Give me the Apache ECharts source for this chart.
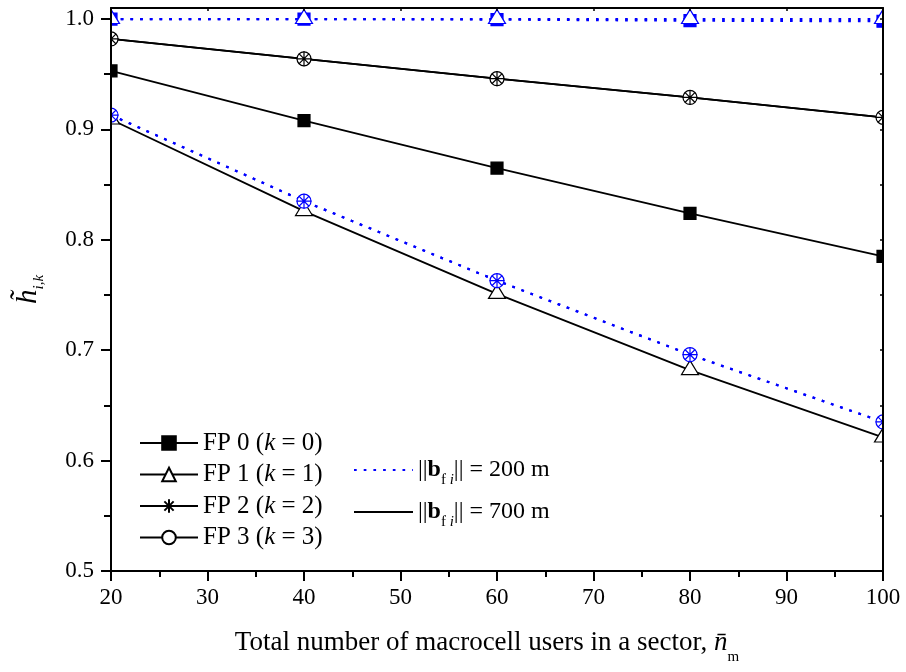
<!DOCTYPE html>
<html><head><meta charset="utf-8">
<script src="https://cdn.jsdelivr.net/npm/echarts@6/dist/echarts.min.js"></script>
<style>html,body{margin:0;padding:0;background:#fff}#c{width:906px;height:672px}</style>
</head><body><div id="c"></div>
<script>
// ---- data ----
const users = [20, 40, 60, 80, 100];
// ||b_fi|| = 200 m (blue dotted)
const fp0_200 = [1.0, 1.0, 0.9995, 0.9985, 0.998];
const fp1_200 = [1.0, 1.0, 1.0, 1.0, 1.0];
const fp2_200 = [0.913, 0.835, 0.763, 0.696, 0.635];
const fp3_200 = [0.913, 0.835, 0.763, 0.696, 0.635];
// ||b_fi|| = 700 m (black solid)
const fp0_700 = [0.953, 0.908, 0.865, 0.824, 0.785];
const fp1_700 = [0.909, 0.826, 0.751, 0.682, 0.621];
const fp2_700 = [0.982, 0.964, 0.946, 0.929, 0.911];
const fp3_700 = [0.982, 0.964, 0.946, 0.929, 0.911];
const fpNames = ['FP 0 (k = 0)', 'FP 1 (k = 1)', 'FP 2 (k = 2)', 'FP 3 (k = 3)'];
const distNames = ['200 m', '700 m'];
const xTicks = [20, 30, 40, 50, 60, 70, 80, 90, 100];
const yTicks = [0.5, 0.6, 0.7, 0.8, 0.9, 1.0];
const yMinorTicks = [0.55, 0.65, 0.75, 0.85, 0.95];
const yAllTicks = [0.5, 0.55, 0.6, 0.65, 0.7, 0.75, 0.8, 0.85, 0.9, 0.95, 1.0];

// ---- style ----
const FONT = 'Liberation Serif';
const BLUE = '#0000ff';
const BLACK = '#000000';
const G = {left: 111, right: 23, top: 8, bottom: 101, W: 906, H: 672};
const STAR = 'path://M5,0L5,10M0,5L10,5M1.6,1.6L8.4,8.4M1.6,8.4L8.4,1.6';

function pts(arr) { return users.map((u, i) => [u, arr[i]]); }

function mk(name, data, color, dotted, symbol) {
  const s = {
    name: name, type: 'line', data: pts(data), z: 2,
    lineStyle: {color: color, width: dotted ? 2.2 : 1.8, type: dotted ? [2.7, 7] : 'solid'},
    symbol: symbol, symbolSize: 12, showSymbol: true,
    itemStyle: {color: color, borderColor: color, borderWidth: 1.2},
    emphasis: {disabled: true}, animation: false
  };
  if (symbol === 'triangle') {
    s.symbolSize = [17, 14]; s.symbolOffset = [0, -2.5];
    s.itemStyle = {color: '#fff', borderColor: color, borderWidth: 1.2};
  } else if (symbol === 'circle') {
    s.symbolSize = 14;
    s.itemStyle = {color: '#fff', borderColor: color, borderWidth: 1.2};
  } else if (symbol === STAR) {
    s.symbolSize = 15;
    s.itemStyle = {color: 'rgba(0,0,0,0)', borderColor: color, borderWidth: 1.2};
  }
  return s;
}

const series = [
  mk(fpNames[0], fp0_700, BLACK, false, 'rect'),
  mk(fpNames[1], fp1_700, BLACK, false, 'triangle'),
  mk(fpNames[3], fp3_700, BLACK, false, 'circle'),
  mk(fpNames[2], fp2_700, BLACK, false, STAR),
  mk('b0', fp0_200, BLUE, true, 'rect'),
  mk('b1', fp1_200, BLUE, true, 'triangle'),
  mk('b3', fp3_200, BLUE, true, 'circle'),
  mk('b2', fp2_200, BLUE, true, STAR),
  {name: distNames[0], type: 'line', data: [], symbol: 'none',
   lineStyle: {color: BLUE, width: 2.2, type: [2.7, 7]}, itemStyle: {color: BLUE}},
  {name: distNames[1], type: 'line', data: [], symbol: 'none',
   lineStyle: {color: BLACK, width: 1.8}, itemStyle: {color: BLACK}}
];

const axisLineStyle = {color: BLACK, width: 2};
const labelStyle = {fontFamily: FONT, fontSize: 23, color: BLACK};

const option = {
  backgroundColor: '#fff',
  animation: false,
  grid: {left: G.left, right: G.right, top: G.top, bottom: G.bottom},
  xAxis: [
    {type: 'value', position: 'bottom', min: 20, max: 100, interval: 10, z: 10,
     axisLine: {show: true, lineStyle: axisLineStyle},
     axisTick: {show: true, inside: false, length: 10, lineStyle: {color: BLACK, width: 2}},
     minorTick: {show: true, splitNumber: 2, length: 6, lineStyle: {color: BLACK, width: 2}},
     axisLabel: Object.assign({margin: 15}, labelStyle),
     splitLine: {show: false},
     name: 'Total number of macrocell users in a sector, {n|n\u0304}{m|m}',
     nameLocation: 'middle', nameGap: 50,
     nameTextStyle: {fontFamily: FONT, fontSize: 27, color: BLACK, lineHeight: 44, padding: [0, 20, 0, 0],
       rich: {
         n: {fontFamily: FONT, fontStyle: 'italic', fontSize: 27, lineHeight: 44, color: BLACK},
         m: {fontFamily: FONT, fontSize: 15, lineHeight: 11, verticalAlign: 'bottom', color: BLACK}
       }}
    },
    {type: 'value', position: 'top', min: 20, max: 100, interval: 10, z: 10,
     axisLine: {show: true, lineStyle: axisLineStyle},
     axisTick: {show: true, inside: true, length: 3, lineStyle: {color: BLACK, width: 1.5}},
     axisLabel: {show: false}, splitLine: {show: false}}
  ],
  yAxis: [
    {type: 'value', position: 'left', min: 0.5, max: 1.01, interval: 0.1, z: 10,
     axisLine: {show: true, lineStyle: axisLineStyle},
     axisTick: {show: true, inside: false, length: 10, customValues: yTicks, lineStyle: {color: BLACK, width: 2}},
     axisLabel: Object.assign({margin: 17, customValues: yTicks, formatter: v => v.toFixed(1)}, labelStyle),
     splitLine: {show: false},
     name: '{h|h\u0303}{s|i,k}', nameLocation: 'middle', nameGap: 64, nameRotate: 90,
     nameTextStyle: {fontFamily: FONT, fontSize: 28, color: BLACK, lineHeight: 38,
       rich: {
         h: {fontFamily: FONT, fontStyle: 'italic', fontSize: 29, lineHeight: 38, color: BLACK},
         s: {fontFamily: FONT, fontStyle: 'italic', fontSize: 15, lineHeight: 15, verticalAlign: 'bottom', color: BLACK}
       }}
    },
    {type: 'value', position: 'left', min: 0.5, max: 1.01, interval: 0.1, z: 10,
     axisLine: {show: false},
     axisTick: {show: true, inside: false, length: 7, customValues: yMinorTicks, lineStyle: {color: BLACK, width: 2}},
     axisLabel: {show: false}, splitLine: {show: false}},
    {type: 'value', position: 'right', min: 0.5, max: 1.01, interval: 0.1, z: 10,
     axisLine: {show: true, lineStyle: axisLineStyle},
     axisTick: {show: true, inside: true, length: 3, customValues: yAllTicks, lineStyle: {color: BLACK, width: 1.5}},
     axisLabel: {show: false}, splitLine: {show: false}}
  ],
  legend: [
    {orient: 'vertical', left: 139, top: 430, padding: 0, itemWidth: 58, itemHeight: 17, itemGap: 5.5,
     selectedMode: false, z: 10,
     data: fpNames,
     formatter: name => name.replace('(k', '({i|k}'),
     textStyle: {fontFamily: FONT, fontSize: 25, color: BLACK, lineHeight: 26,
       rich: {i: {fontFamily: FONT, fontStyle: 'italic', fontSize: 25, lineHeight: 26, color: BLACK}}}
    },
    {orient: 'vertical', left: 353, top: 452, padding: 0, itemWidth: 59, itemHeight: 15, itemGap: 6,
     selectedMode: false, z: 10,
     data: distNames.map(n => ({name: n, itemStyle: {opacity: 0}})),
     formatter: name => '{t|||}{b|b}{s|f }{si|i}{t||| = ' + name + '}',
     textStyle: {fontFamily: FONT, fontSize: 24, color: BLACK, lineHeight: 36,
       rich: {
         t: {fontFamily: FONT, fontSize: 24, lineHeight: 36, color: BLACK},
         b: {fontFamily: FONT, fontSize: 24, fontWeight: 'bold', lineHeight: 36, color: BLACK},
         s: {fontFamily: FONT, fontSize: 15, lineHeight: 14, verticalAlign: 'bottom', color: BLACK},
         si: {fontFamily: FONT, fontSize: 15, fontStyle: 'italic', lineHeight: 14, verticalAlign: 'bottom', color: BLACK}
       }}
    }
  ],
  graphic: [
    {type: 'rect', z: 5, silent: true, shape: {x: 0, y: 0, width: G.left, height: G.H}, style: {fill: '#fff'}},
    {type: 'rect', z: 5, silent: true, shape: {x: G.W - G.right, y: 0, width: G.right, height: G.H}, style: {fill: '#fff'}},
    {type: 'rect', z: 5, silent: true, shape: {x: 0, y: 0, width: G.W, height: G.top}, style: {fill: '#fff'}},
    {type: 'rect', z: 5, silent: true, shape: {x: 0, y: G.H - G.bottom, width: G.W, height: G.bottom}, style: {fill: '#fff'}}
  ],
  series: series
};

const chart = echarts.init(document.getElementById('c'), null, {renderer: 'canvas'});
chart.setOption(option);
</script>
</body></html>
